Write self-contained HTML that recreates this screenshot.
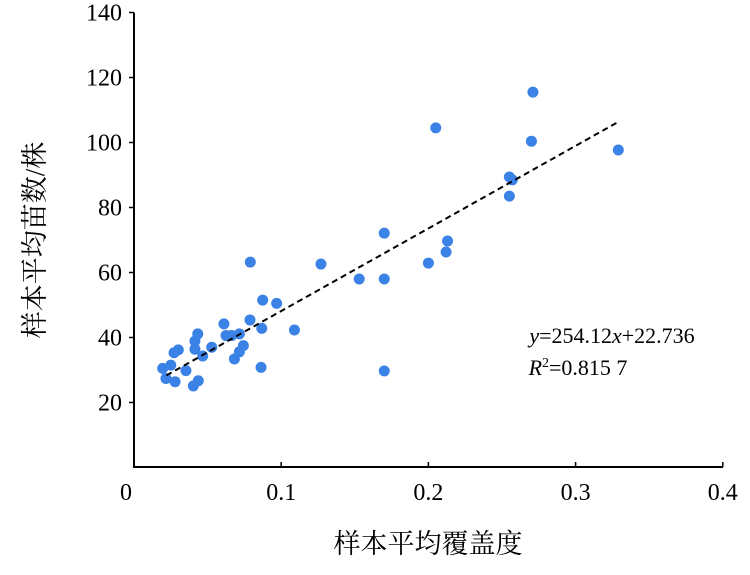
<!DOCTYPE html>
<html><head><meta charset="utf-8"><style>
body{margin:0;background:#fff}
svg text{font-family:"Liberation Serif","Noto Serif CJK SC",serif;fill:#000}
</style></head><body>
<svg width="750" height="570" xmlns="http://www.w3.org/2000/svg">
<g id="axes"></g><g id="pts"></g><g id="fit"></g>
<text x="612" y="343" font-size="22" text-anchor="middle"><tspan font-style="italic">y</tspan>=254.12<tspan font-style="italic">x</tspan>+22.736</text>
<text x="578" y="375" font-size="22" text-anchor="middle"><tspan font-style="italic">R</tspan><tspan font-size="14" dy="-8">2</tspan><tspan dy="8">=0.815 7</tspan></text>
<text x="428" y="553" font-size="27" text-anchor="middle">样本平均覆盖度</text>
<text transform="translate(44,240) rotate(-90)" font-size="27" text-anchor="middle">样本平均苗数/株</text>
</svg>
<script>
const xs=[0.0195,0.025,0.0217,0.0279,0.0272,0.0301,0.0353,0.0403,0.0437,0.0414,0.0433,0.0414,0.0467,0.0528,0.0611,0.0625,0.0663,0.0716,0.0682,0.0716,0.0743,0.0788,0.0868,0.0874,0.0969,0.0863,0.109,0.079,0.127,0.153,0.17,0.17,0.17,0.2,0.212,0.213,0.205,0.255,0.257,0.255,0.27,0.271,0.329];
const ys=[30.5,31.5,27.4,26.4,35.3,36.2,29.8,25.1,26.7,38.9,41.1,36.4,34.3,37,44.2,40.6,40.6,41.1,33.4,35.6,37.5,45.4,42.8,51.5,50.5,30.8,42.3,63.2,62.6,58,58,72.1,29.7,62.9,66.3,69.7,104.5,89.4,88.5,83.5,100.4,115.5,97.7];
const xTicks=[0,0.1,0.2,0.3,0.4];
const yTicks=[20,40,60,80,100,120,140];
const slope=254.12, intercept=22.736, fitRange=[0.022,0.33];
const X=v=>134+v*1472, Y=v=>467.5-v*3.25;
const NS="http://www.w3.org/2000/svg";
function mk(t,a,p){const e=document.createElementNS(NS,t);for(const k in a)e.setAttribute(k,a[k]);p.appendChild(e);return e;}
const ax=document.getElementById('axes');
let l=mk('path',{d:`M134,${Y(140)}V467H723`,stroke:'#000','stroke-width':2,fill:'none'},ax);


xTicks.forEach(t=>{
 const tk=mk('line',{x1:X(t),x2:X(t),y1:467,y2:462,stroke:'#000','stroke-width':1.5},ax);
 
 
 const tx=mk('text',{x:X(t)+(t===0?-8:0),y:500,'font-size':24,'text-anchor':'middle'},ax);tx.textContent=String(t);
 
 
});
yTicks.forEach(t=>{
 const tk=mk('line',{x1:129,x2:134,y1:Y(t),y2:Y(t),stroke:'#000','stroke-width':1.5},ax);
 
 
 const tx=mk('text',{x:122,y:Y(t)+8,'font-size':24,'text-anchor':'end'},ax);tx.textContent=String(t);
 
 
});
const pg=document.getElementById('pts');
xs.forEach((x,i)=>{
 const c=mk('circle',{cx:X(x),cy:Y(ys[i]),r:5.5,fill:'#3b82e6'},pg);
 
 
});
const f=mk('line',{x1:X(fitRange[0]),y1:Y(slope*fitRange[0]+intercept),x2:X(fitRange[1]),y2:Y(slope*fitRange[1]+intercept),stroke:'#000','stroke-width':2,'stroke-dasharray':'6,4'},document.getElementById('fit'));


</script>
</body></html>
